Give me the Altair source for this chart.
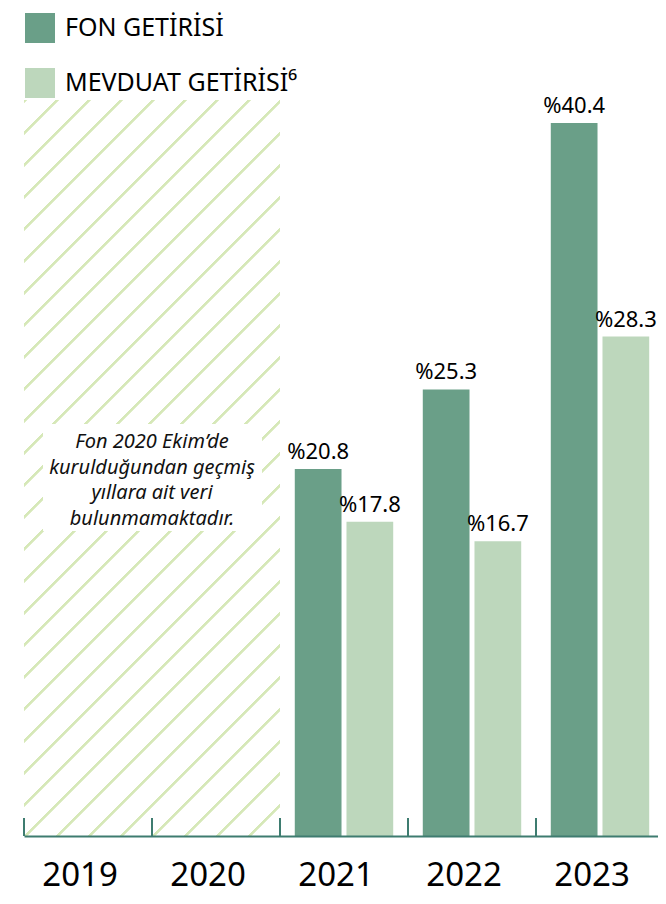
import altair as alt
import pandas as pd
import numpy as np

# ---- data ----
years = ["2019", "2020", "2021", "2022", "2023"]
series = ["FON GETİRİSİ", "MEVDUAT GETİRİSİ⁶"]
fon = [None, None, 20.8, 25.3, 40.4]
mevduat = [None, None, 17.8, 16.7, 28.3]
colors = ["#6a9f88", "#bdd7bc"]
note_lines = ["Fon 2020 Ekim’de", "kurulduğundan geçmiş", "yıllara ait veri", "bulunmamaktadır."]

# ---- layout / style ----
W, H = 634, 736
X_RANGE = 640
Y_MAX = 41.7
FONT = "Noto Sans"
AXIS_COLOR = "#3e7c70"
HATCH = "#d6e8b8"

rows = []
for i, yr in enumerate(years):
    for s, vals in zip(series, [fon, mevduat]):
        if vals[i] is not None:
            rows.append({"year": yr, "series": s, "value": vals[i], "label": f"%{vals[i]:.1f}"})
bars_df = pd.DataFrame(rows)
missing_df = pd.DataFrame({"year": [yr for i, yr in enumerate(years) if fon[i] is None]})
years_df = pd.DataFrame({"year": years})
note_df = pd.DataFrame({"year": [missing_df["year"].iloc[-1]]})

# ---- diagonal hatch as a striped linear gradient (bbox units) ----
band = X_RANGE / len(years)
d_total = (band + H) / np.sqrt(2)
period = band / 4 / np.sqrt(2)
gx, gy = 1 / H, 1 / band
k = (gx + gy) / (gx ** 2 + gy ** 2)
gx2, gy2 = k * gx, k * gy
stops = [alt.GradientStop(offset=0, color="white")]
half = 1.0
soft = 0.5
d = 1.0
while d - half - soft < d_total:
    for off, col in [(d - half - soft, "white"), (d - half, HATCH), (d + half, HATCH), (d + half + soft, "white")]:
        t = float(min(max(off / d_total, 0.0), 1.0))
        stops.append(alt.GradientStop(offset=t, color=col))
    d += period
stops.append(alt.GradientStop(offset=1, color="white"))
gradient = alt.Gradient(gradient="linear", x1=0, y1=0, x2=float(gx2), y2=float(gy2), stops=stops)

# ---- scales & axis ----
x_scale = alt.Scale(domain=years, range=[0, X_RANGE], paddingInner=0, paddingOuter=0)
xoff_scale = alt.Scale(domain=series, paddingInner=0.096, paddingOuter=0.286)
y_scale = alt.Scale(domain=[0, Y_MAX], nice=False, zero=True)
x_axis = alt.Axis(title=None, labelFontSize=33, labelFont=FONT, labelColor="black",
                  labelBaseline="alphabetic", labelPadding=49, labelOffset=-8,
                  ticks=False, tickSize=0, domainColor=AXIS_COLOR, domainWidth=2,
                  labelAngle=0, grid=False)

hatch = alt.Chart(missing_df).mark_rect(fill=gradient, strokeWidth=0).encode(
    x=alt.X("year:N", scale=x_scale, axis=x_axis),
    y=alt.value(0), y2=alt.value(H),
)

box = alt.Chart(note_df).mark_rect(fill="white").encode(
    x=alt.value(19), x2=alt.value(238), y=alt.value(324), y2=alt.value(431)
)

note = alt.Chart(note_df).mark_text(
    text=note_lines, font=FONT, fontStyle="italic", fontSize=20, lineHeight=25.5,
    align="center", baseline="alphabetic", color="#111111"
).encode(
    x=alt.X("year:N", scale=x_scale, axis=x_axis, bandPosition=0),
    y=alt.value(348),
)

bars = alt.Chart(bars_df).mark_bar().encode(
    x=alt.X("year:N", scale=x_scale, axis=x_axis),
    xOffset=alt.XOffset("series:N", scale=xoff_scale, sort=series),
    y=alt.Y("value:Q", scale=y_scale, axis=None),
    color=alt.Color("series:N", scale=alt.Scale(domain=series, range=colors),
                    legend=alt.Legend(title=None, orient="none", legendX=1, legendY=-87,
                                      direction="vertical", symbolType="square", symbolSize=900,
                                      symbolStrokeWidth=0, symbolOpacity=1, labelFont=FONT,
                                      labelFontSize=25, labelColor="black", labelOffset=10,
                                      rowPadding=25, padding=0, labelLimit=400)),
)

labels = alt.Chart(bars_df).mark_text(
    font=FONT, fontSize=22, color="black", baseline="alphabetic", dy=-10
).encode(
    x=alt.X("year:N", scale=x_scale, axis=x_axis),
    xOffset=alt.XOffset("series:N", scale=xoff_scale, sort=series),
    y=alt.Y("value:Q", scale=y_scale, axis=None),
    text="label:N",
)

ticks = alt.Chart(years_df).mark_rule(color=AXIS_COLOR, strokeWidth=2).encode(
    x=alt.X("year:N", scale=x_scale, axis=x_axis, bandPosition=0),
    y=alt.value(H - 18), y2=alt.value(H),
)

chart = alt.layer(hatch, box, note, bars, labels, ticks).properties(
    width=W, height=H,
    autosize=alt.AutoSizeParams(type="none"),
    padding={"left": 16, "top": 92, "right": 0, "bottom": 59},
).configure(font=FONT).configure_view(strokeWidth=0, stroke="transparent")

chart.save("out.html", embed_options={"renderer": "svg", "actions": False})
